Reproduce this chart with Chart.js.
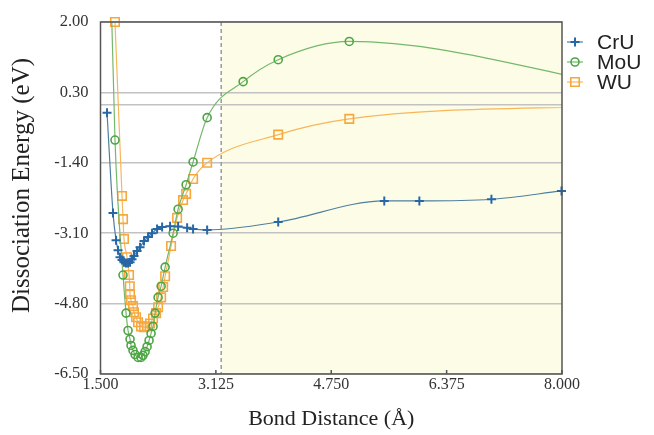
<!DOCTYPE html>
<html>
<head>
<meta charset="utf-8">
<script src="https://cdn.jsdelivr.net/npm/chart.js@4.4.1/dist/chart.umd.min.js"></script>
<style>
  html, body { margin: 0; padding: 0; background: #fff; }
</style>
</head>
<body>
<canvas id="myChart" width="654" height="435"></canvas>
<script>
// tick values
const xTicks = [1.5, 3.125, 4.75, 6.375, 8.0];
const yTicks = [-6.5, -4.8, -3.1, -1.4, 0, 0.3, 2.0];
const shadeFrom = 3.2;

// CrU
const cruX = [1.592, 1.676, 1.719, 1.747, 1.775, 1.803, 1.831, 1.859, 1.888, 1.916, 1.944, 1.972,
              2.015, 2.057, 2.113, 2.170, 2.226, 2.297, 2.368, 2.480, 2.593, 2.720, 2.804, 3.002,
              4.003, 5.497, 5.991, 7.006, 7.993];
const cruY = [-0.19, -2.61, -3.27, -3.51, -3.68, -3.75, -3.80, -3.82, -3.82, -3.80, -3.73, -3.65,
              -3.53, -3.44, -3.29, -3.19, -3.10, -3.00, -2.95, -2.93, -2.94, -2.97, -3.00, -3.02,
              -2.83, -2.32, -2.32, -2.28, -2.08];

// MoU
const mouX = [1.6, 1.704, 1.817, 1.860, 1.888, 1.916, 1.930, 1.958, 1.987, 2.029, 2.071, 2.099,
              2.128, 2.156, 2.184, 2.212, 2.240, 2.269, 2.311, 2.354, 2.410, 2.523, 2.593, 2.706,
              2.804, 3.002, 3.509, 4.003, 5.004, 9.0];
const mouY = [6.0, -0.85, -4.11, -5.03, -5.45, -5.66, -5.81, -5.93, -6.03, -6.10, -6.10, -6.05,
              -5.96, -5.84, -5.69, -5.52, -5.35, -5.03, -4.65, -4.38, -3.92, -3.10, -2.52, -1.93,
              -1.38, -0.31, 0.56, 1.09, 1.53, 0.40];

// WU
const wuX = [1.704, 1.803, 1.817, 1.831, 1.874, 1.902, 1.912, 1.916, 1.930, 1.958, 1.972, 2.001,
             2.029, 2.071, 2.113, 2.156, 2.198, 2.240, 2.283, 2.311, 2.354, 2.382, 2.410, 2.494,
             2.579, 2.663, 2.706, 2.804, 3.002, 4.003, 5.004, 9.0];
const wuY = [2.00, -2.20, -2.76, -3.24, -3.68, -4.11, -4.38, -4.57, -4.72, -4.86, -5.01, -5.13,
             -5.25, -5.35, -5.37, -5.35, -5.28, -5.16, -5.03, -4.89, -4.65, -4.40, -4.14, -3.41,
             -2.73, -2.30, -2.15, -1.79, -1.40, -0.72, -0.34, -0.01];

function pts(xs, ys) {
    return xs.map(function(x, i){ return {x: x, y: ys[i]}; });
}

const serif = "'Liberation Serif', 'Times New Roman', serif";

// yellow area + dashed line + frame + legend
const backdrop = {
    id: 'backdrop',
    beforeDraw(chart) {
        const {ctx, chartArea: a, scales: {x}} = chart;
        const sx = x.getPixelForValue(shadeFrom);
        ctx.save();
        ctx.fillStyle = '#fdfde7';
        ctx.fillRect(sx, a.top, a.right - sx, a.bottom - a.top);
        ctx.restore();
    },
    beforeDatasetsDraw(chart) {
        const {ctx, chartArea: a, scales: {x}} = chart;
        const sx = x.getPixelForValue(shadeFrom);
        ctx.save();
        ctx.strokeStyle = '#9a9a9a';
        ctx.lineWidth = 1.5;
        ctx.setLineDash([4, 3]);
        ctx.beginPath();
        ctx.moveTo(sx, a.top);
        ctx.lineTo(sx, a.bottom);
        ctx.stroke();
        ctx.restore();
    },
    afterDatasetsDraw(chart) {
        const {ctx, chartArea: a, scales: {x}} = chart;
        ctx.save();
        ctx.strokeStyle = '#555';
        ctx.lineWidth = 1.5;
        ctx.strokeRect(a.left, a.top, a.right - a.left, a.bottom - a.top);
        ctx.beginPath();
        x.ticks.forEach(function(t){
            const px = x.getPixelForValue(t.value);
            ctx.moveTo(px, a.bottom);
            ctx.lineTo(px, a.bottom - 4);
        });
        ctx.stroke();
        ctx.restore();
    },
    afterDraw(chart) {
        const ctx = chart.ctx;
        ctx.save();
        chart.data.datasets.forEach(function(ds, i){
            const y = 42 + i * 20;
            ctx.strokeStyle = ds.borderColor;
            ctx.lineWidth = 1.2;
            ctx.beginPath();
            ctx.moveTo(567, y);
            ctx.lineTo(583, y);
            ctx.stroke();
            ctx.strokeStyle = ds.pointBorderColor;
            ctx.fillStyle = 'rgba(0,0,0,0)';
            ctx.lineWidth = ds.pointBorderWidth;
            Chart.helpers.drawPoint(ctx, {pointStyle: ds.pointStyle, radius: ds.pointRadius,
                rotation: 0, borderWidth: ds.pointBorderWidth}, 575, y);
            ctx.fillStyle = '#222';
            ctx.font = "21px 'Liberation Sans', Arial, sans-serif";
            ctx.textBaseline = 'middle';
            ctx.fillText(ds.label, 597, y + 1);
        });
        ctx.restore();
    }
};

const config = {
    type: 'line',
    data: {
        datasets: [
            {
                label: 'CrU',
                data: pts(cruX, cruY),
                borderColor: '#4f7fa0',
                borderWidth: 1.2,
                pointStyle: 'cross',
                pointRadius: 4.5,
                pointBorderWidth: 2,
                pointBorderColor: '#2767a6',
                pointBackgroundColor: 'rgba(0,0,0,0)',
                cubicInterpolationMode: 'monotone',
                clip: {left: 6, top: 6, right: 6, bottom: 6},
            },
            {
                label: 'MoU',
                data: pts(mouX, mouY),
                borderColor: '#74b86c',
                borderWidth: 1.2,
                pointStyle: 'circle',
                pointRadius: 4,
                pointBorderWidth: 1.6,
                pointBorderColor: '#4ea545',
                pointBackgroundColor: 'rgba(0,0,0,0)',
                cubicInterpolationMode: 'monotone',
                clip: {left: 6, top: 0, right: 0, bottom: 6},
            },
            {
                label: 'WU',
                data: pts(wuX, wuY),
                borderColor: '#f8b65a',
                borderWidth: 1.2,
                pointStyle: 'rect',
                pointRadius: 6,
                pointBorderWidth: 1.6,
                pointBorderColor: '#f6a83e',
                pointBackgroundColor: 'rgba(0,0,0,0)',
                cubicInterpolationMode: 'monotone',
                clip: {left: 6, top: 6, right: 0, bottom: 6},
            },
        ],
    },
    options: {
        responsive: false,
        animation: false,
        devicePixelRatio: 1,
        layout: { padding: { top: 22, right: 92, left: 0, bottom: 0 } },
        plugins: {
            legend: { display: false },
            tooltip: { enabled: false },
        },
        scales: {
            x: {
                type: 'linear',
                min: 1.5,
                max: 8.0,
                afterBuildTicks: function(s){ s.ticks = xTicks.map(function(v){ return {value: v}; }); },
                afterFit: function(s){ s.height = 61; },
                ticks: {
                    callback: function(v){ return v.toFixed(3); },
                    font: { family: serif, size: 16 },
                    color: '#333',
                    padding: 1,
                    maxRotation: 0,
                    autoSkip: false,
                },
                grid: { display: false, drawTicks: false },
                border: { display: false },
                title: {
                    display: true,
                    text: 'Bond Distance (Å)',
                    font: { family: serif, size: 22 },
                    color: '#222',
                    padding: { top: 0, bottom: 3 },
                },
            },
            y: {
                min: -6.5,
                max: 2.0,
                afterBuildTicks: function(s){ s.ticks = yTicks.map(function(v){ return {value: v}; }); },
                afterFit: function(s){ s.width = 100.5; },
                ticks: {
                    callback: function(v){ return v === 0 ? '' : v.toFixed(2); },
                    font: { family: serif, size: 16.5 },
                    color: '#333',
                    padding: 12,
                    autoSkip: false,
                },
                grid: { color: '#c2c2c2', lineWidth: 1.5, drawTicks: false },
                border: { display: false },
                title: {
                    display: true,
                    text: '    Dissociation Energy (eV)',
                    font: { family: serif, size: 25 },
                    color: '#222',
                    padding: { top: 7, bottom: 0 },
                },
            },
        },
    },
    plugins: [backdrop],
};

const myChart = new Chart(document.getElementById('myChart'), config);
</script>
</body>
</html>
